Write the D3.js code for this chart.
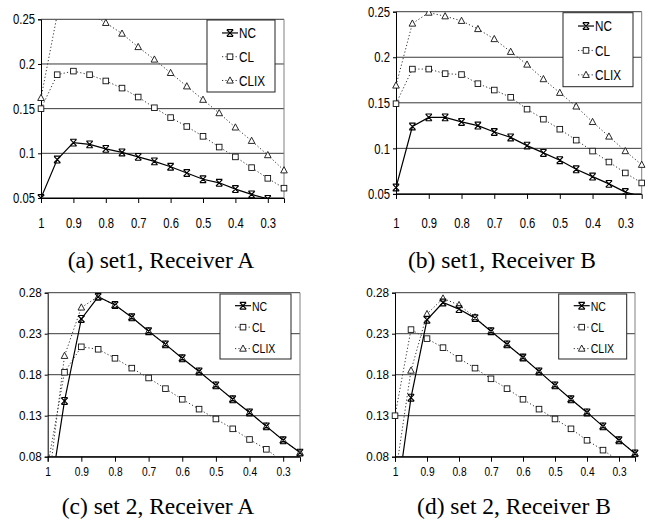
<!DOCTYPE html>
<html><head><meta charset="utf-8">
<script src="https://cdn.jsdelivr.net/npm/d3@7/dist/d3.min.js"></script>
<style>body{margin:0;background:#fff}svg{display:block}</style>
</head><body>
<svg id="chart" width="657" height="525"></svg>
<script>
// ---------- data ----------
const xValues = [1, 0.95, 0.9, 0.85, 0.8, 0.75, 0.7, 0.65, 0.6, 0.55, 0.5, 0.45, 0.4, 0.35, 0.3, 0.25];
const xTickLabels = ["1", "0.9", "0.8", "0.7", "0.6", "0.5", "0.4", "0.3"];
const seriesNames = ["NC", "CL", "CLIX"];
const yTicksSet1 = [0.05, 0.1, 0.15, 0.2, 0.25];
const yTickLabelsSet1 = ["0.05", "0.1", "0.15", "0.2", "0.25"];
const yTicksSet2 = [0.08, 0.13, 0.18, 0.23, 0.28];
const yTickLabelsSet2 = ["0.08", "0.13", "0.18", "0.23", "0.28"];
const captions = ["(a) set1, Receiver A", "(b) set1, Receiver B", "(c) set 2, Receiver A", "(d) set 2, Receiver B"];

// (a) set1, Receiver A
const aNC   = [0.050, 0.093, 0.112, 0.110, 0.105, 0.101, 0.096, 0.091, 0.085, 0.078, 0.071, 0.067, 0.060, 0.054, 0.049, 0.042];
const aCL   = [0.150, 0.188, 0.192, 0.188, 0.181, 0.173, 0.163, 0.151, 0.140, 0.130, 0.119, 0.107, 0.096, 0.084, 0.072, 0.061];
const aCLIX = [0.162, 0.255, 0.262, 0.256, 0.246, 0.234, 0.219, 0.205, 0.190, 0.175, 0.160, 0.145, 0.129, 0.114, 0.098, 0.081];
// (b) set1, Receiver B
const bNC   = [0.057, 0.124, 0.134, 0.134, 0.129, 0.125, 0.118, 0.112, 0.103, 0.095, 0.087, 0.077, 0.069, 0.061, 0.052, 0.047];
const bCL   = [0.149, 0.187, 0.187, 0.182, 0.181, 0.171, 0.164, 0.156, 0.143, 0.132, 0.121, 0.109, 0.097, 0.085, 0.073, 0.062];
const bCLIX = [0.169, 0.237, 0.249, 0.245, 0.240, 0.231, 0.220, 0.206, 0.192, 0.176, 0.161, 0.146, 0.129, 0.113, 0.097, 0.082];
// (c) set 2, Receiver A
const cNC   = [0.015, 0.148, 0.248, 0.275, 0.265, 0.250, 0.233, 0.217, 0.200, 0.184, 0.167, 0.150, 0.134, 0.117, 0.100, 0.085];
const cCL   = [0.069, 0.183, 0.214, 0.211, 0.200, 0.188, 0.176, 0.163, 0.150, 0.138, 0.126, 0.114, 0.101, 0.089, 0.074, 0.060];
const cCLIX = [0.039, 0.203, 0.262, 0.275, 0.265, 0.250, 0.233, 0.217, 0.200, 0.184, 0.167, 0.150, 0.134, 0.117, 0.100, 0.085];
// (d) set 2, Receiver B
const dNC   = [0.013, 0.152, 0.247, 0.268, 0.260, 0.249, 0.233, 0.217, 0.201, 0.184, 0.167, 0.150, 0.134, 0.117, 0.100, 0.084];
const dCL   = [0.130, 0.235, 0.224, 0.213, 0.200, 0.188, 0.175, 0.163, 0.150, 0.138, 0.126, 0.114, 0.100, 0.088, 0.075, 0.063];
const dCLIX = [0.054, 0.185, 0.254, 0.273, 0.265, 0.250, 0.233, 0.217, 0.201, 0.184, 0.167, 0.150, 0.134, 0.117, 0.100, 0.084];

// ---------- layout ----------
const panels = [
  {series: [aNC, aCL, aCLIX], yTicks: yTicksSet1, yLabels: yTickLabelsSet1, caption: captions[0],
   L: 41, R: 284, T: 19.3, B: 198, capX: 161, capY: 268, legend: {x: 207, y: 20, w: 68, h: 72},
   yFont: 14.5, yScaleX: 0.78, xFont: 15, xScaleX: 0.75, xLabY: 228, lgFont: 15},
  {series: [bNC, bCL, bCLIX], yTicks: yTicksSet1, yLabels: yTickLabelsSet1, caption: captions[1],
   L: 396, R: 641.7, T: 11.7, B: 193.9, capX: 502, capY: 268, legend: {x: 563, y: 12.7, w: 70, h: 74},
   yFont: 14.5, yScaleX: 0.78, xFont: 15, xScaleX: 0.75, xLabY: 228, lgFont: 15},
  {series: [cNC, cCL, cCLIX], yTicks: yTicksSet2, yLabels: yTickLabelsSet2, caption: captions[2],
   L: 47.7, R: 300, T: 292.7, B: 456.7, capX: 158, capY: 514, legend: {x: 220, y: 294, w: 71, h: 65},
   yFont: 13, yScaleX: 0.9, xFont: 12, xScaleX: 0.85, xLabY: 476, lgFont: 13.5},
  {series: [dNC, dCL, dCLIX], yTicks: yTicksSet2, yLabels: yTickLabelsSet2, caption: captions[3],
   L: 395, R: 635, T: 292.7, B: 456.7, capX: 514, capY: 514, legend: {x: 558.7, y: 294, w: 68, h: 65},
   yFont: 13, yScaleX: 0.9, xFont: 12, xScaleX: 0.85, xLabY: 476, lgFont: 13.5}
];

const svg = d3.select("#chart");
const SANS = "'Liberation Sans', Arial, sans-serif";
const SERIF = "'Liberation Serif', 'Times New Roman', serif";

function drawMarker(g, type, x, y) {
  if (type === 0) {
    g.append("path").attr("d", `M${x-3.2},${y-3.2}L${x+3.2},${y+3.2}M${x-3.2},${y+3.2}L${x+3.2},${y-3.2}M${x-3.2},${y-3.4}H${x+3.2}M${x-3.2},${y+3.4}H${x+3.2}`)
      .attr("stroke", "#000").attr("stroke-width", 1.15).attr("fill", "none");
  } else if (type === 1) {
    g.append("rect").attr("x", x-2.8).attr("y", y-2.8).attr("width", 5.6).attr("height", 5.6)
      .attr("fill", "#fff").attr("stroke", "#111").attr("stroke-width", 0.9);
  } else {
    g.append("path").attr("d", `M${x},${y-3.6}L${x+3.3},${y+2.6}L${x-3.3},${y+2.6}Z`)
      .attr("fill", "#fff").attr("stroke", "#111").attr("stroke-width", 0.9);
  }
}

const lineStyles = [
  {stroke: "#000", width: 1.2, dash: null},
  {stroke: "#333", width: 1, dash: "1.2,2.2"},
  {stroke: "#333", width: 1, dash: "1.2,2.2"}
];

panels.forEach((p, pi) => {
  const x = d3.scaleLinear().domain([xValues[0], xValues[xValues.length-1]]).range([p.L, p.R]);
  const y = d3.scaleLinear().domain([p.yTicks[0], p.yTicks[p.yTicks.length-1]]).range([p.B, p.T]);
  const g = svg.append("g");

  const clipId = "clip" + pi;
  svg.append("clipPath").attr("id", clipId).append("rect")
    .attr("x", p.L - 4).attr("y", p.T - 0.5).attr("width", p.R - p.L + 8).attr("height", p.B - p.T + 1);
  svg.append("clipPath").attr("id", clipId + "l").append("rect")
    .attr("x", p.L).attr("y", p.T).attr("width", p.R - p.L).attr("height", p.B - p.T);

  // gridlines
  p.yTicks.forEach(t => {
    g.append("line").attr("x1", p.L).attr("x2", p.R).attr("y1", y(t)).attr("y2", y(t))
      .attr("stroke", t === p.yTicks[0] ? "#000" : "#3a3a3a").attr("stroke-width", 1);
  });
  g.append("line").attr("x1", p.R).attr("x2", p.R).attr("y1", p.T).attr("y2", p.B)
    .attr("stroke", "#808080").attr("stroke-width", 1);

  // y axis
  const yAxis = d3.axisLeft(y).tickValues(p.yTicks).tickSize(3).tickPadding(3)
    .tickFormat((d, i) => p.yLabels[i]);
  const ya = g.append("g").attr("transform", `translate(${p.L},0)`).call(yAxis);
  ya.select(".domain").attr("stroke", "#000");
  ya.selectAll(".tick line").attr("stroke", "#000");
  ya.selectAll(".tick text")
    .attr("font-family", SANS).attr("font-size", p.yFont).attr("fill", "#000")
    .attr("x", null)
    .attr("transform", `translate(-6,0) scale(${p.yScaleX},1)`);

  // x axis
  const tickIdx = xValues.map((v, i) => i).filter(i => i % 2 === 0);
  const xAxis = d3.axisBottom(x).tickValues(tickIdx.map(i => xValues[i])).tickSize(5).tickPadding(0)
    .tickFormat((d, i) => xTickLabels[i]);
  const xa = g.append("g").attr("transform", `translate(0,${p.B})`).call(xAxis);
  xa.select(".domain").attr("stroke", "#000");
  xa.selectAll(".tick line").attr("stroke", "#000");
  xa.selectAll(".tick text").attr("font-family", SANS).attr("font-size", p.xFont).attr("fill", "#000")
    .attr("dy", null).attr("y", 0)
    .attr("transform", `translate(0,${p.xLabY - p.B}) scale(${p.xScaleX},1)`);

  // series
  const lineGen = d3.line().x((d, i) => x(xValues[i])).y(d => y(d));
  const sg = g.append("g").attr("clip-path", `url(#${clipId}l)`);
  [2, 1, 0].forEach(si => {
    const st = lineStyles[si];
    const path = sg.append("path").datum(p.series[si]).attr("d", lineGen)
      .attr("fill", "none").attr("stroke", st.stroke).attr("stroke-width", st.width);
    if (st.dash) path.attr("stroke-dasharray", st.dash);
  });
  const mg = g.append("g").attr("clip-path", `url(#${clipId})`);
  [2, 1, 0].forEach(si => {
    p.series[si].forEach((v, i) => {
      const lo = p.yTicks[0] - 0.001, hi = p.yTicks[p.yTicks.length-1] + 0.001;
      if (v < lo || v > hi) return;
      drawMarker(mg, si, x(xValues[i]), y(v));
    });
  });

  // legend
  const lg = p.legend;
  g.append("rect").attr("x", lg.x).attr("y", lg.y).attr("width", lg.w).attr("height", lg.h)
    .attr("fill", "#fff").attr("stroke", "#222").attr("stroke-width", 1);
  seriesNames.forEach((name, si) => {
    const cy = lg.y + lg.h * (0.18 + si * 0.33);
    const x0 = lg.x + 15, x1 = lg.x + 31;
    const ln = g.append("line").attr("x1", x0).attr("x2", x1).attr("y1", cy).attr("y2", cy)
      .attr("stroke", lineStyles[si].stroke).attr("stroke-width", lineStyles[si].width);
    if (lineStyles[si].dash) ln.attr("stroke-dasharray", lineStyles[si].dash);
    drawMarker(g, si, (x0 + x1) / 2, cy);
    g.append("text").attr("transform", `translate(${x1 + 1},${cy + p.lgFont * 0.36}) scale(0.78,1)`)
      .attr("font-family", SANS).attr("font-size", p.lgFont).attr("fill", "#000").text(name);
  });

  // caption
  svg.append("text").attr("x", p.capX).attr("y", p.capY).attr("text-anchor", "middle")
    .attr("font-family", SERIF).attr("font-size", 23.5).attr("fill", "#000").text(p.caption);
});
</script>
</body></html>
